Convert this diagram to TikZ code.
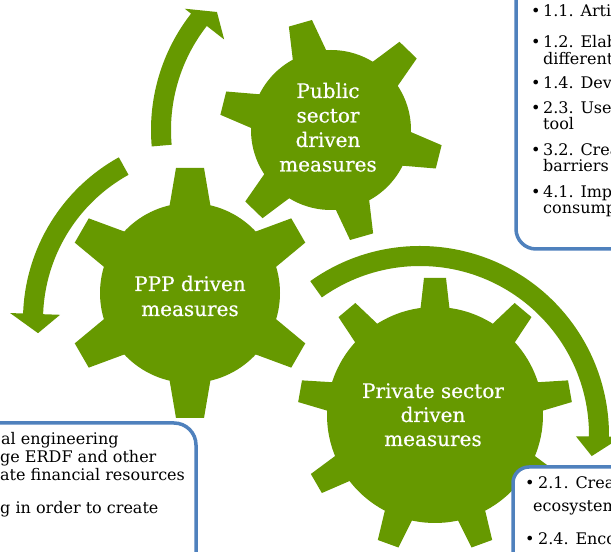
\documentclass[tikz,border=0pt]{standalone}
\usepackage{fontspec}
\setmainfont{DejaVu Serif}
\newfontfamily\gearfont[FakeBold=0.5]{DejaVu Serif}
\definecolor{gearcol}{RGB}{102,153,0}
\definecolor{boxblue}{RGB}{79,129,189}
\tikzset{
  gearfill/.style={fill=gearcol},
  gtxt/.style={text=white, font=\gearfont\fontsize{20}{24}\selectfont, anchor=base, inner sep=0pt},
  btxt/.style={text=black, font=\fontsize{16}{18}\selectfont, anchor=base west, inner sep=0pt},
  infobox/.style={draw=boxblue, line width=3.5pt, fill=white},
}
% #1 x, #2 y (from top), #3 body radius, #4 tip radius, #5 half base, #6 half tip, #7 angles
\newcommand\drawgear[7]{%
  \begin{scope}[shift={(#1,552-#2)}]
    \fill[gearfill] (0,0) circle (#3pt);
    \foreach \a in {#7}{%
      \fill[gearfill, rotate=\a] (#3-6,-#5) -- (#4,-#6) -- (#4,#6) -- (#3-6,#5) -- cycle;}
  \end{scope}}
\begin{document}
\begin{tikzpicture}[x=1pt,y=1pt]
\useasboundingbox (0,0) rectangle (611,552);
\clip (0,0) rectangle (611,552);
\fill[white] (0,0) rectangle (611,552);

% gears
\drawgear{331}{130}{80}{111}{18}{12}{106,166,226,286,346,46}
\drawgear{190}{293}{90}{125}{21}{14}{90,150,210,270,330,30}
\drawgear{435}{415}{108}{137}{15}{11}{90,130,170,210,250,290,330,370,410}

% curved arrows
\begin{scope}[shift={(340,422)}]
  \fill[gearfill] (185:189pt) arc[start angle=185, end angle=142, radius=189pt]
    -- (142:197pt) -- (136.2:170.5pt) -- (142:147pt) -- (142:169pt)
    arc[start angle=142, end angle=185, radius=169pt] -- cycle;
\end{scope}
\begin{scope}[shift={(209,232)}]
  \fill[gearfill] (119:186pt) arc[start angle=119, end angle=178, radius=186pt]
    -- (178:199pt) -- (184.4:171.5pt) -- (178:149pt) -- (178:166pt)
    arc[start angle=178, end angle=119, radius=166pt] -- cycle;
\end{scope}
\begin{scope}[shift={(420,117)}]
  \fill[gearfill] (125.5:189pt) arc[start angle=125.5, end angle=-0.5, radius=189pt]
    -- (-0.5:202pt) -- (-7:173pt) -- (-0.5:156pt) -- (-0.5:169pt)
    arc[start angle=-0.5, end angle=125.5, radius=169pt] -- cycle;
\end{scope}

% gear labels
\node[gtxt] (pub1) at (328,454) {Public};
\node[gtxt] (pub2) at (328,429.5) {sector};
\node[gtxt] (pub3) at (328,405) {driven};
\node[gtxt] (pub4) at (328,380.5) {measures};
\node[gtxt] (ppp1) at (190,261) {PPP driven};
\node[gtxt] (ppp2) at (190,236) {measures};
\node[gtxt] (pri1) at (433,154) {Private sector};
\node[gtxt] (pri2) at (433,130) {driven};
\node[gtxt] (pri3) at (433,106) {measures};

% boxes
\draw[infobox, rounded corners=20pt] (516,303) rectangle (720,590);
\draw[infobox, rounded corners=22pt] (-60,-40) rectangle (196,129);
\draw[infobox, rounded corners=16pt] (513,-40) rectangle (720,85);

% top-right box text
\node[btxt] (tb1) at (531,535) {•};   \node[btxt] (t1) at (543,535) {1.1. Artic};
\node[btxt] (tb2) at (531,504) {•};   \node[btxt] (t2) at (543,504) {1.2. Elabo};
                                        \node[btxt] (t2b) at (543,487) {differenti};
\node[btxt] (tb3) at (531,463) {•};   \node[btxt] (t3) at (543,463) {1.4. Deve};
\node[btxt] (tb4) at (531,438) {•};   \node[btxt] (t4) at (543,438) {2.3. Use};
                                        \node[btxt] (t4b) at (543,422) {tool};
\node[btxt] (tb5) at (531,396) {•};   \node[btxt] (t5) at (543,396) {3.2. Crea};
                                        \node[btxt] (t5b) at (543,380) {barriers};
\node[btxt] (tb6) at (531,354) {•};   \node[btxt] (t6) at (543,354) {4.1. Impr};
                                        \node[btxt] (t6b) at (543,338) {consump};

% bottom-left box text
\node[btxt] (l1) at (1,107) {al engineering};
\node[btxt] (l2) at (0,89) {ge ERDF and other};
\node[btxt] (l3) at (0,71) {ate financial resources};
\node[btxt] (l4) at (0,38) {g in order to create};

% bottom-right box text
\node[btxt] (rb1) at (525,63) {•};   \node[btxt] (r1) at (538,63) {2.1. Crea};
                                       \node[btxt] (r1b) at (533,40) {ecosystem};
\node[btxt] (rb2) at (525,7) {•};    \node[btxt] (r2) at (538,7) {2.4. Enco};
\end{tikzpicture}
\end{document}
